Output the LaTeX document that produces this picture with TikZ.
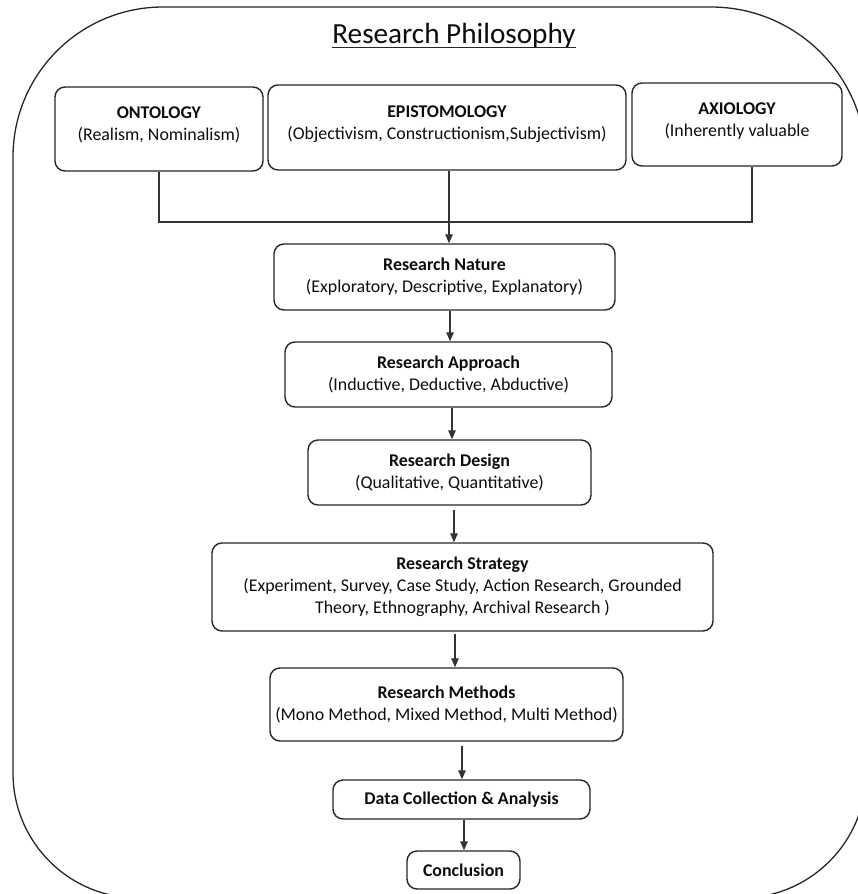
\documentclass[tikz,border=0pt]{standalone}
\usepackage{fontspec}
\setmainfont{Carlito}
\usetikzlibrary{arrows.meta}
\begin{document}
\begin{tikzpicture}[x=1pt,y=1pt,
  frame/.style={draw=black!85, line width=1.3pt},
  box/.style={draw=black!85, line width=1.4pt, rounded corners=10pt, align=center,
    inner sep=0pt, font=\fontsize{17.9}{22}\selectfont, text=black!95},
  conn/.style={draw=black!80, line width=1.2pt},
  arr/.style={conn, -{Triangle[length=9pt,width=7.5pt]}},
]
\useasboundingbox (0,0) rectangle (858,-894);

% outer rounded frame, partly running past the page edge
\begin{scope}
\clip (0,0) rectangle (858,-894);
\draw[frame] (13,-773) -- (13,-157) arc[start angle=180, end angle=90, radius=150]
  -- (711,-7) arc[start angle=90, end angle=0, radius=155]
  -- (866,-773) arc[start angle=0, end angle=-90, radius=125]
  -- (138,-898) arc[start angle=270, end angle=180, radius=125] -- cycle;
\end{scope}

% title
\node[inner sep=0pt, font=\fontsize{29.2}{34}\selectfont, text=black!95, anchor=base] (title) at (454,-43) {Research Philosophy};
\draw[line width=1.3pt, black!85] ([yshift=-4.5pt]title.base west) -- ([yshift=-4.5pt]title.base east);

% philosophy boxes
\node[box, minimum width=208pt, minimum height=84pt] (onto) at (159,-129)
  {\textbf{ONTOLOGY}\\(Realism, Nominalism)\\[-12pt]\mbox{}};
\node[box, minimum width=358pt, minimum height=85pt] (epi) at (447,-127.5)
  {\textbf{EPISTOMOLOGY}\\(Objectivism, Constructionism,Subjectivism)\\[-12pt]\mbox{}};
\node[box, minimum width=210pt, minimum height=83pt] (axi) at (737,-124.5)
  {\textbf{AXIOLOGY}\\(Inherently valuable\\[-12pt]\mbox{}};

% main chain
\node[box, minimum width=341pt, minimum height=66pt] (nat) at (444.5,-277)
  {\textbf{Research Nature}\\(Exploratory, Descriptive, Explanatory)};
\node[box, minimum width=327pt, minimum height=65pt] (app) at (448.5,-374.5)
  {\textbf{Research Approach}\\(Inductive, Deductive, Abductive)};
\node[box, minimum width=283pt, minimum height=65pt] (des) at (449.5,-472.5)
  {\textbf{Research Design}\\(Qualitative, Quantitative)};
\node[box, minimum width=501pt, minimum height=88pt] (str) at (462.5,-587)
  {\textbf{Research Strategy}\\(Experiment, Survey, Case Study, Action Research, Grounded\\Theory, Ethnography, Archival Research )};
\node[box, minimum width=353pt, minimum height=73pt] (met) at (446.5,-704.5)
  {\textbf{Research Methods}\\(Mono Method, Mixed Method, Multi Method)};
\node[box, minimum width=257pt, minimum height=39pt] (dat) at (461.5,-799.5)
  {\textbf{Data Collection \& Analysis}};
\node[box, minimum width=113pt, minimum height=38pt] (con) at (463.5,-870)
  {\textbf{Conclusion}};

% connector columns
\coordinate (bus) at (0,-222);
\coordinate (axfoot) at ([xshift=15pt]axi.south);
\coordinate (k1) at (449,0);
\coordinate (k2) at (450,0);
\coordinate (k3) at (452,0);
\coordinate (k4) at (454,0);
\coordinate (k5) at (455,0);
\coordinate (k6) at (462,0);
\coordinate (k7) at (464,0);

\draw[conn] (onto.south) |- (axfoot |- bus) -- (axfoot);
\draw[arr] (epi.south -| k1) -- (nat.north -| k1);
\draw[arr] (nat.south -| k2) -- (app.north -| k2);
\draw[arr] (app.south -| k3) -- (des.north -| k3);
\draw[arr] ([yshift=-4pt]des.south -| k4) -- (str.north -| k4);
\draw[arr] ([yshift=-2pt]str.south -| k5) -- (met.north -| k5);
\draw[arr] ([yshift=-4pt]met.south -| k6) -- (dat.north -| k6);
\draw[arr] (dat.south -| k7) -- (con.north -| k7);
\end{tikzpicture}
\end{document}
